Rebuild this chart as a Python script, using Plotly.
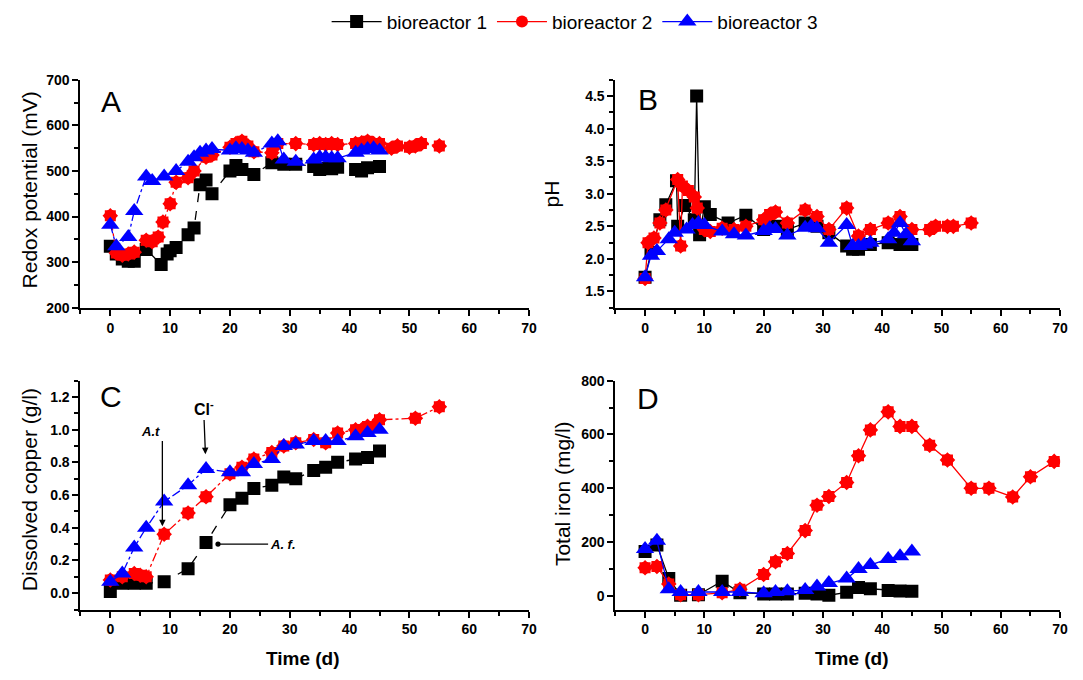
import plotly.graph_objects as go

# ---------------- data ----------------
# Panel A: redox potential (mV)
tA1 = [0, 1, 2, 3, 4, 6, 8.5, 9.5, 10, 11, 13, 14, 15, 16, 17, 20, 21, 22, 24, 27, 29, 31, 34, 35, 36, 37, 38, 41, 42, 43, 45]
vA1 = [335, 318, 307, 302, 302, 328, 295, 318, 325, 332, 360, 375, 470, 480, 450, 500, 512, 503, 492, 518, 515, 515, 510, 503, 506, 505, 508, 503, 500, 507, 510]
tA2 = [0, 1, 2, 3, 4, 6, 7, 8, 8.8, 10, 11, 13, 14, 16, 17, 20, 21, 22, 23, 24, 27, 28, 31, 34, 35, 36, 37, 38, 41, 42, 43, 44, 45, 47, 48, 50, 51, 52, 55]
vA2 = [402, 320, 315, 318, 322, 348, 345, 355, 388, 428, 475, 485, 500, 530, 535, 552, 560, 565, 555, 542, 540, 560, 560, 558, 560, 558, 560, 558, 560, 562, 565, 560, 560, 550, 555, 552, 555, 560, 555]
tA3 = [0, 1, 3, 4, 6, 7, 9, 11, 13, 14, 15, 16, 17, 20, 21, 22, 23, 24, 27, 28, 29, 31, 34, 35, 36, 37, 38, 41, 42, 43, 44, 45]
vA3 = [382, 335, 355, 412, 488, 478, 488, 500, 520, 530, 540, 545, 548, 545, 550, 548, 545, 540, 560, 565, 525, 520, 525, 530, 530, 528, 528, 540, 545, 548, 550, 545]

# Panel B: pH
tB1 = [0, 1, 2.5, 3.5, 5.3, 5.5, 6.7, 8.3, 8.7, 9.2, 10, 11, 14, 17, 20, 22, 24, 27, 29, 31, 34, 35, 36, 38, 41, 43, 45]
vB1 = [1.72, 2.1, 2.6, 2.83, 3.2, 2.5, 2.82, 2.6, 4.5, 2.37, 2.8, 2.68, 2.55, 2.67, 2.45, 2.5, 2.45, 2.55, 2.5, 2.4, 2.2, 2.15, 2.15, 2.22, 2.25, 2.22, 2.22]
tB2 = [0, 0.5, 1.5, 2.5, 3.5, 5.5, 6, 6.3, 7.3, 8.3, 8.8, 10, 11, 13, 15, 17, 20, 21, 22, 24, 27, 29, 31, 34, 36, 38, 41, 43, 45, 48, 49, 51, 52, 55]
vB2 = [1.7, 2.25, 2.32, 2.55, 2.75, 3.22, 2.2, 3.12, 3.05, 2.95, 2.78, 2.45, 2.42, 2.47, 2.45, 2.5, 2.6, 2.68, 2.72, 2.55, 2.75, 2.65, 2.45, 2.78, 2.35, 2.45, 2.55, 2.65, 2.45, 2.45, 2.5, 2.5, 2.5, 2.55]
tB3 = [0, 1, 2, 4, 5, 7, 8, 9, 10, 13, 15, 17, 20, 21, 22, 24, 27, 28, 29, 31, 34, 35, 36, 37, 38, 41, 42, 43, 44, 45]
vB3 = [1.72, 2.05, 2.12, 2.3, 2.4, 2.45, 2.52, 2.55, 2.52, 2.42, 2.38, 2.36, 2.43, 2.47, 2.46, 2.36, 2.48, 2.5, 2.47, 2.25, 2.52, 2.2, 2.2, 2.22, 2.25, 2.3, 2.4, 2.55, 2.38, 2.27]

# Panel C: dissolved copper (g/l)
tC1 = [0, 2, 4, 6, 9, 13, 16, 20, 22, 24, 27, 29, 31, 34, 36, 38, 41, 43, 45]
vC1 = [0.01, 0.06, 0.06, 0.06, 0.07, 0.15, 0.31, 0.54, 0.58, 0.64, 0.66, 0.71, 0.70, 0.75, 0.77, 0.80, 0.82, 0.83, 0.87]
tC2 = [0, 2, 4, 5, 6, 9, 13, 16, 20, 22, 24, 27, 29, 31, 34, 36, 38, 41, 42, 43, 44, 45, 51, 55]
vC2 = [0.08, 0.1, 0.12, 0.11, 0.1, 0.36, 0.49, 0.59, 0.73, 0.77, 0.82, 0.86, 0.9, 0.92, 0.94, 0.92, 0.98, 1.0, 1.0, 1.02, 1.02, 1.06, 1.07, 1.14]
tC3 = [0, 2, 4, 6, 9, 13, 16, 20, 22, 24, 27, 29, 31, 34, 36, 38, 41, 43, 45]
vC3 = [0.07, 0.12, 0.28, 0.4, 0.56, 0.66, 0.76, 0.74, 0.74, 0.79, 0.82, 0.9, 0.91, 0.93, 0.93, 0.93, 0.96, 0.98, 1.0]

# Panel D: total iron (mg/l)
tD1 = [0, 2, 4, 6, 9, 13, 16, 20, 22, 24, 27, 29, 31, 34, 36, 38, 41, 43, 45]
vD1 = [165, 190, 65, 3, 5, 55, 12, 8, 8, 8, 10, 8, 3, 14, 32, 27, 21, 19, 18]
tD2 = [0, 2, 4, 6, 9, 13, 16, 20, 22, 24, 27, 29, 31, 34, 36, 38, 41, 43, 45, 48, 51, 55, 58, 62, 65, 69]
vD2 = [105, 110, 45, 5, 5, 12, 25, 80, 127, 158, 243, 337, 370, 422, 521, 617, 684, 630, 630, 560, 505, 400, 400, 368, 443, 500]
tD3 = [0, 2, 4, 6, 9, 13, 16, 20, 22, 24, 27, 29, 31, 34, 36, 38, 41, 43, 45]
vD3 = [175, 205, 25, 15, 15, 15, 15, 10, 15, 18, 22, 35, 48, 65, 100, 115, 138, 148, 165]

# tick values and labels
x_ticks = [0, 10, 20, 30, 40, 50, 60, 70]
yA_ticks = [200, 300, 400, 500, 600, 700]
yB_ticks = [1.5, 2.0, 2.5, 3.0, 3.5, 4.0, 4.5]
yC_ticks = [0.0, 0.2, 0.4, 0.6, 0.8, 1.0, 1.2]
yD_ticks = [0, 200, 400, 600, 800]

names = ["bioreactor 1", "bioreactor 2", "bioreactor 3"]
colors = ["#000000", "#ff0000", "#0000ff"]
symbols = ["square", "circle", "triangle-up"]
msizes = [13, 12, 16]

FONT = "Liberation Sans, Arial, sans-serif"


def bold_labels(vals, fmt):
    return ["<b>" + format(v, fmt) + "</b>" for v in vals]


fig = go.Figure()

panels = [
    ("x", "y", [(tA1, vA1), (tA2, vA2), (tA3, vA3)], ["dash", "dot", "dashdot"]),
    ("x2", "y2", [(tB1, vB1), (tB2, vB2), (tB3, vB3)], ["solid", "solid", "solid"]),
    ("x3", "y3", [(tC1, vC1), (tC2, vC2), (tC3, vC3)], ["dash", "dashdot", "dashdot"]),
    ("x4", "y4", [(tD1, vD1), (tD2, vD2), (tD3, vD3)], ["solid", "solid", "solid"]),
]

for pi, (xa, ya, series, dashes) in enumerate(panels):
    for si, (t, v) in enumerate(series):
        if si == 1:
            # scalloped outline for the bioreactor 2 markers: two squares at 0 and 45 deg
            for ang in (0, 45):
                fig.add_trace(go.Scatter(
                    x=t, y=v, xaxis=xa, yaxis=ya, mode="markers",
                    showlegend=False, legendgroup=names[si], hoverinfo="skip",
                    marker=dict(symbol="square", size=11, angle=ang, color=colors[si],
                                line=dict(width=0)),
                ))
        fig.add_trace(go.Scatter(
            x=t, y=v, xaxis=xa, yaxis=ya, mode="lines+markers",
            name=names[si], showlegend=(pi == 1), legendgroup=names[si],
            line=dict(color=colors[si], width=1.3, dash=dashes[si]),
            marker=dict(symbol=symbols[si], size=msizes[si], color=colors[si],
                        line=dict(width=0)),
        ))

axis_common = dict(
    showline=True, linecolor="black", linewidth=2, mirror=False,
    showgrid=False, zeroline=False, ticks="outside", ticklen=6, tickwidth=1.5,
    tickcolor="black", tickmode="array",
    tickfont=dict(family=FONT, size=14, color="black"),
)
xdom_l = [81 / 1083, 533 / 1083]
xdom_r = [620 / 1083, 1068 / 1083]
ydom_top = [1 - 307 / 680, 1 - 73.5 / 680]
ydom_bot = [1 - 616 / 680, 1 - 381.6 / 680]


def minor(vals):
    return dict(tickvals=vals, ticklen=4, tickcolor="black", ticks="outside")


xcommon = dict(axis_common, range=[-5, 70],
               tickvals=x_ticks, ticktext=bold_labels(x_ticks, "d"),
               minor=minor(list(range(-5, 71, 5))))

fig.update_layout(
    xaxis=dict(xcommon, domain=xdom_l, anchor="y"),
    yaxis=dict(axis_common, domain=ydom_top, anchor="x", range=[200, 700],
               tickvals=yA_ticks, ticktext=bold_labels(yA_ticks, "d"),
               minor=minor(list(range(200, 701, 50)))),
    xaxis2=dict(xcommon, domain=xdom_r, anchor="y2"),
    yaxis2=dict(axis_common, domain=ydom_top, anchor="x2", range=[1.25, 4.75],
                tickvals=yB_ticks, ticktext=bold_labels(yB_ticks, ".1f"),
                minor=minor([1.25 + 0.25 * i for i in range(15)])),
    xaxis3=dict(xcommon, domain=xdom_l, anchor="y3"),
    yaxis3=dict(axis_common, domain=ydom_bot, anchor="x3", range=[-0.1, 1.3],
                tickvals=yC_ticks, ticktext=bold_labels(yC_ticks, ".1f"),
                minor=minor([-0.1 + 0.1 * i for i in range(15)])),
    xaxis4=dict(xcommon, domain=xdom_r, anchor="y4"),
    yaxis4=dict(axis_common, domain=ydom_bot, anchor="x4", range=[-50, 800],
                tickvals=yD_ticks, ticktext=bold_labels(yD_ticks, "d"),
                minor=minor(list(range(0, 801, 100)))),
    width=1083, height=680,
    margin=dict(l=0, r=0, t=0, b=0),
    paper_bgcolor="white", plot_bgcolor="white",
    font=dict(family=FONT, color="black"),
    legend=dict(orientation="h", x=0.535, y=1.008, xanchor="center", yanchor="top",
                font=dict(family=FONT, size=19, color="black"),
                itemwidth=50, tracegroupgap=0, bgcolor="rgba(0,0,0,0)"),
)

ann = []
def label(text, x, y, size, angle=0, bold=False, italic=False):
    t = text
    if bold:
        t = "<b>" + t + "</b>"
    if italic:
        t = "<i>" + t + "</i>"
    ann.append(dict(text=t, x=x / 1083, y=1 - y / 680, xref="paper", yref="paper",
                    showarrow=False, textangle=angle, xanchor="center", yanchor="middle",
                    font=dict(family=FONT, size=size, color="black")))

# panel letters
label("A", 112, 96, 30)
label("B", 653, 94, 30)
label("C", 112, 398, 30)
label("D", 653, 400, 30)
# axis titles
label("Redox potential (mV)", 30, 186, 21, angle=-90)
label("pH", 556, 190, 21, angle=-90)
label("Dissolved copper (g/l)", 30, 493, 21, angle=-90)
label("Total iron (mg/l)", 566, 497, 21, angle=-90)
label("Time (d)", 305, 666, 19, bold=True)
label("Time (d)", 858, 666, 19, bold=True)

# arrows and notes in panel C
ann.append(dict(x=8.7, y=0.41, xref="x3", yref="y3", ax=8.7, ay=0.93, axref="x3", ayref="y3",
                showarrow=True, arrowhead=2, arrowsize=1, arrowwidth=1.3, arrowcolor="black",
                text="<i><b>A.t</b></i>", xanchor="right", yanchor="bottom",
                font=dict(family=FONT, size=13, color="black")))
ann.append(dict(x=15.9, y=0.85, xref="x3", yref="y3", ax=15.6, ay=1.13, axref="x3", ayref="y3",
                showarrow=True, arrowhead=2, arrowsize=1, arrowwidth=1.3, arrowcolor="black",
                text="<b>Cl<sup>-</sup></b>", font=dict(family=FONT, size=16, color="black")))
ann.append(dict(x=18, y=0.30, xref="x3", yref="y3", ax=28.8, ay=0.30, axref="x3", ayref="y3",
                showarrow=True, arrowhead=6, arrowsize=1, arrowwidth=1.3, arrowcolor="black",
                text="<i><b>A. f.</b></i>", font=dict(family=FONT, size=13, color="black")))

fig.update_layout(annotations=ann)

fig.write_html("out.html")
